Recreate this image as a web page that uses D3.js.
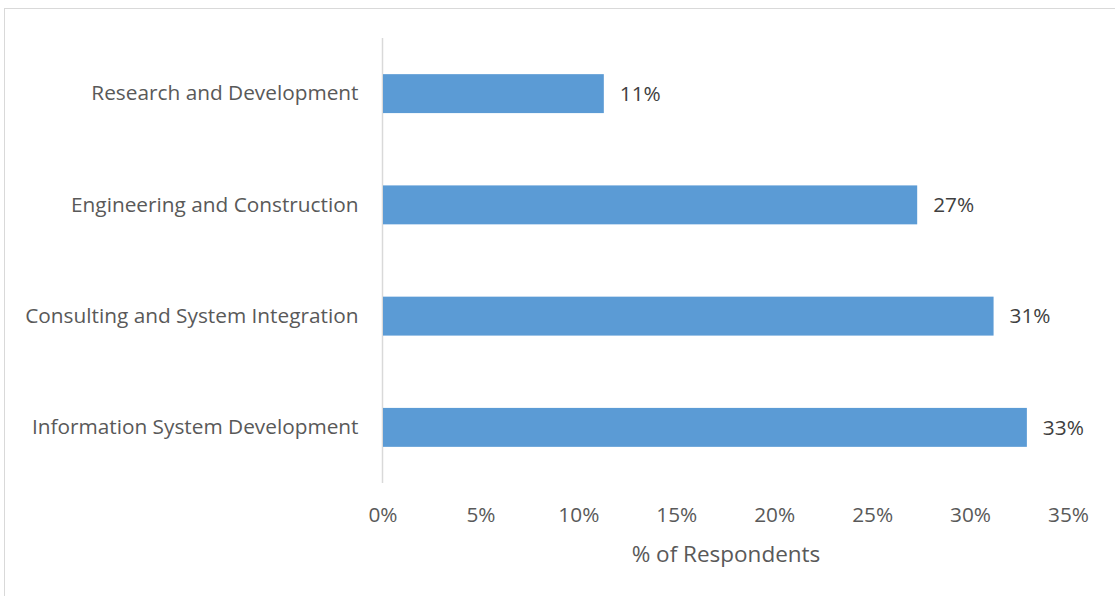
<!DOCTYPE html>
<html>
<head>
<meta charset="utf-8">
<script src="https://cdn.jsdelivr.net/npm/d3@7"></script>
<style>
  html, body { margin: 0; padding: 0; background: #fff; }
  svg { display: block; font-family: "Open Sans", "Segoe UI", sans-serif; }
</style>
</head>
<body>
<svg id="chart" width="1115" height="596"></svg>
<script>
// Share of respondents by organisation type
const categories = [
  "Research and Development",
  "Engineering and Construction",
  "Consulting and System Integration",
  "Information System Development"
];
const shares = [0.113, 0.273, 0.312, 0.329];
const tickValues = [0, 0.05, 0.10, 0.15, 0.20, 0.25, 0.30, 0.35];
const axisTitle = "% of Respondents";

const svg = d3.select("#chart");
const textColor = "#595959";
const fontSize = 20.8;

// chart-area frame
svg.append("rect")
  .attr("x", 4.5).attr("y", 8.5)
  .attr("width", 1130).attr("height", 600)
  .attr("fill", "none")
  .attr("stroke", "#d9d9d9")
  .attr("stroke-width", 1);

const x = d3.scaleLinear().domain([0, 0.35]).range([382.5, 1068]);
const y = d3.scaleBand().domain(categories).range([38, 483]).paddingInner(0.65).paddingOuter(0.325);

// category axis line
svg.append("line")
  .attr("x1", x(0)).attr("x2", x(0))
  .attr("y1", y.range()[0]).attr("y2", y.range()[1])
  .attr("stroke", "#d9d9d9").attr("stroke-width", 1.5);

// bars
svg.append("g").selectAll("rect")
  .data(categories)
  .join("rect")
  .attr("x", x(0) + 0.5)
  .attr("y", d => y(d))
  .attr("width", (d, i) => x(shares[i]) - x(0) - 0.5)
  .attr("height", y.bandwidth())
  .attr("fill", "#5b9bd5");

// value labels
const pct = d3.format(".0%");
svg.append("g").selectAll("text")
  .data(categories)
  .join("text")
  .attr("x", (d, i) => x(shares[i]) + 16)
  .attr("y", d => y(d) + y.bandwidth() / 2)
  .attr("dy", "0.35em")
  .attr("font-size", fontSize)
  .attr("fill", "#404040")
  .text((d, i) => pct(shares[i]));

// category labels
const yAxis = svg.append("g")
  .attr("transform", `translate(${x(0)},0)`)
  .call(d3.axisLeft(y).tickSize(0).tickPadding(24));
yAxis.select(".domain").remove();
yAxis.selectAll("text")
  .attr("font-size", fontSize)
  .attr("font-family", "\"Open Sans\", sans-serif")
  .attr("fill", textColor);

// value axis tick labels
const xAxis = svg.append("g")
  .attr("transform", "translate(0,507)")
  .call(d3.axisBottom(x).tickValues(tickValues).tickFormat(d3.format(".0%")).tickSize(0).tickPadding(0));
xAxis.select(".domain").remove();
xAxis.selectAll("text")
  .attr("font-size", fontSize)
  .attr("font-family", "\"Open Sans\", sans-serif")
  .attr("fill", textColor);

// axis title
svg.append("text")
  .attr("x", 726).attr("y", 554)
  .attr("dy", "0.35em")
  .attr("text-anchor", "middle")
  .attr("font-size", 22.5)
  .attr("fill", textColor)
  .text(axisTitle);
</script>
</body>
</html>
